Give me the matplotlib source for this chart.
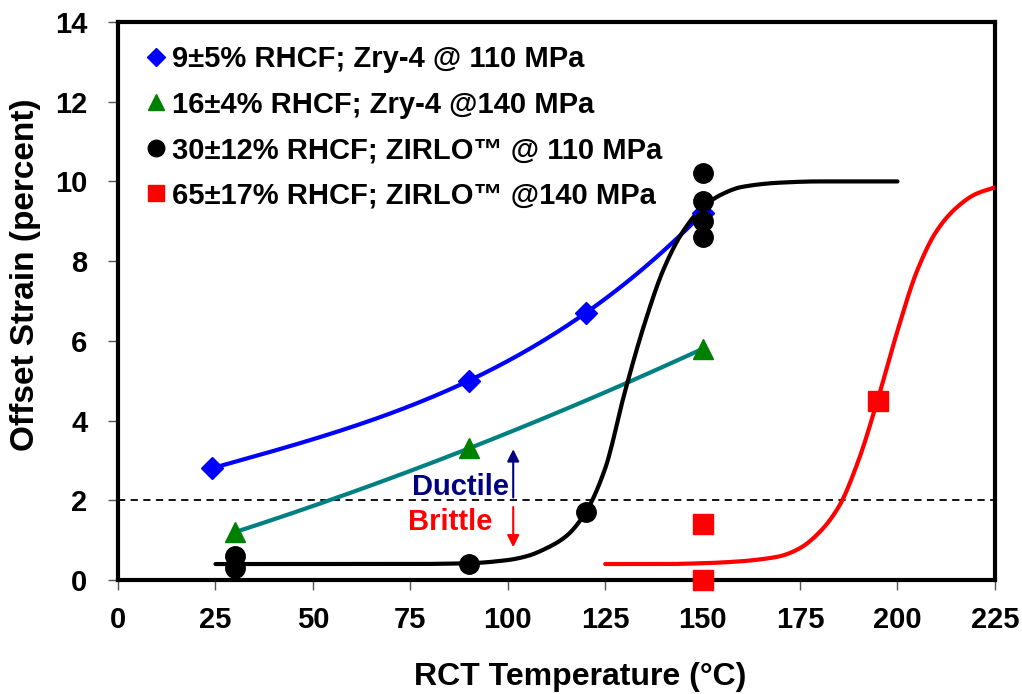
import numpy as np
import matplotlib
matplotlib.use("Agg")
import matplotlib.pyplot as plt

plt.rcParams['font.family'] = ['Liberation Sans', 'DejaVu Sans']
plt.rcParams['font.weight'] = 'bold'

# ---------------- data ----------------
blue_x = [24, 90, 120, 150]
blue_y = [2.8, 5.0, 6.7, 9.2]

green_x = [30, 90, 150]
green_y = [1.2, 3.3, 5.8]

black_x = [30, 30, 90, 120, 150, 150, 150, 150]
black_y = [0.6, 0.3, 0.4, 1.7, 10.2, 9.5, 9.0, 8.6]

red_x = [150, 150, 195]
red_y = [1.4, 0.0, 4.5]

# fitted curves
black_fit_x = [25, 50, 75, 90, 100, 105, 110, 115, 120, 125, 130, 135, 140, 145,
               150, 155, 160, 170, 180, 190, 200]
black_fit_y = [0.40, 0.40, 0.40, 0.42, 0.50, 0.60, 0.80, 1.10, 1.70, 2.80, 4.70,
               6.40, 7.80, 8.75, 9.35, 9.68, 9.86, 9.97, 10.0, 10.0, 10.0]

red_fit_x = [125, 140, 150, 160, 165, 170, 175, 180, 185, 190, 195, 200, 205, 210,
             215, 220, 225]
red_fit_y = [0.40, 0.40, 0.42, 0.47, 0.52, 0.60, 0.80, 1.20, 1.85, 3.00, 4.55,
             6.25, 7.75, 8.75, 9.33, 9.68, 9.85]

labels = ["9\u00b15% RHCF; Zry-4 @ 110 MPa",
          "16\u00b14% RHCF; Zry-4 @140 MPa",
          "30\u00b112% RHCF; ZIRLO\u2122 @ 110 MPa",
          "65\u00b117% RHCF; ZIRLO\u2122 @140 MPa"]

xticks = [0, 25, 50, 75, 100, 125, 150, 175, 200, 225]
yticks = [0, 2, 4, 6, 8, 10, 12, 14]


def pchip(x, y, xn):
    x = np.asarray(x, float); y = np.asarray(y, float)
    h = np.diff(x); d = np.diff(y) / h
    m = np.zeros_like(y)
    for k in range(1, len(x) - 1):
        if d[k - 1] * d[k] > 0:
            w1 = 2 * h[k] + h[k - 1]; w2 = h[k] + 2 * h[k - 1]
            m[k] = (w1 + w2) / (w1 / d[k - 1] + w2 / d[k])
    m[0] = d[0]; m[-1] = d[-1]
    idx = np.clip(np.searchsorted(x, xn) - 1, 0, len(x) - 2)
    t = (xn - x[idx]) / h[idx]
    h00 = 2 * t**3 - 3 * t**2 + 1; h10 = t**3 - 2 * t**2 + t
    h01 = -2 * t**3 + 3 * t**2; h11 = t**3 - t**2
    return h00 * y[idx] + h10 * h[idx] * m[idx] + h01 * y[idx + 1] + h11 * h[idx] * m[idx + 1]


fig = plt.figure(figsize=(10.22, 6.94), dpi=100)
ax = fig.add_axes([0.1155, 0.1643, 0.858, 0.804])

# curves
xb = np.linspace(blue_x[0], blue_x[-1], 200)
ax.plot(xb, np.polyval(np.polyfit(blue_x, blue_y, 3), xb), color='#0000FF', lw=3, zorder=3)
xg = np.linspace(green_x[0], green_x[-1], 200)
ax.plot(xg, np.polyval(np.polyfit(green_x, green_y, 2), xg), color='#008080', lw=3, zorder=3)
xk = np.linspace(black_fit_x[0], black_fit_x[-1], 400)
ax.plot(xk, pchip(black_fit_x, black_fit_y, xk), color='black', lw=3,
        solid_capstyle='round', zorder=3)
xr = np.linspace(red_fit_x[0], red_fit_x[-1], 400)
ax.plot(xr, pchip(red_fit_x, red_fit_y, xr), color='#FF0000', lw=3,
        solid_capstyle='round', zorder=3)

# markers
hb, = ax.plot(blue_x, blue_y, 'D', color='#0000FF', ms=11, ls='none', zorder=4)
hg, = ax.plot(green_x, green_y, '^', color='#008000', ms=14, ls='none', zorder=4)
hk, = ax.plot(black_x, black_y, 'o', color='black', ms=14, ls='none', zorder=5)
hr, = ax.plot(red_x, red_y, 's', color='#FF0000', ms=14, ls='none', zorder=4, clip_on=False)

# threshold line
ax.axhline(2, color='black', ls=(0, (4, 3)), lw=1.3, zorder=2)

# ductile / brittle
ax.annotate('', xy=(101.4, 3.35), xytext=(101.4, 2.0),
            arrowprops=dict(arrowstyle='-|>', color='#000080', lw=1.5, mutation_scale=18))
ax.annotate('', xy=(101.4, 0.75), xytext=(101.4, 1.9),
            arrowprops=dict(arrowstyle='-|>', color='#FF0000', lw=1.5, mutation_scale=18))
ax.text(100.3, 2.12, 'Ductile', color='#000080', fontsize=21, fontweight='bold',
        ha='right', va='baseline')
ax.text(96, 1.25, 'Brittle', color='#FF0000', fontsize=21, fontweight='bold',
        ha='right', va='baseline')

ax.set_xlim(0, 225)
ax.set_ylim(0, 14)
ax.set_xticks(xticks)
ax.set_yticks(yticks)
ax.set_xticklabels([str(v) for v in xticks], fontsize=21, fontweight='bold')
ax.set_yticklabels([str(v) for v in yticks], fontsize=21, fontweight='bold')
ax.tick_params(axis='both', direction='out', length=7, width=1, color='#555555')
ax.tick_params(axis='x', pad=12)
ax.tick_params(axis='y', pad=15)
for s in ax.spines.values():
    s.set_linewidth(3)
    s.set_color('black')

ax.set_xlabel('RCT Temperature (\u00b0C)', fontsize=23, fontweight='bold')
ax.set_ylabel('Offset Strain (percent)', fontsize=24, fontweight='bold')
ax.xaxis.set_label_coords(0.527, -0.147)
ax.yaxis.set_label_coords(-0.088, 0.547)

leg = ax.legend([hb, hg, hk, hr], labels, loc='upper left', bbox_to_anchor=(0.012, 0.995),
                frameon=False, handlelength=0.5, handletextpad=0.3, labelspacing=0.6,
                markerscale=0.85, prop=dict(size=21, weight='bold'), borderaxespad=0.3)

fig.savefig('out.png', dpi=100)
